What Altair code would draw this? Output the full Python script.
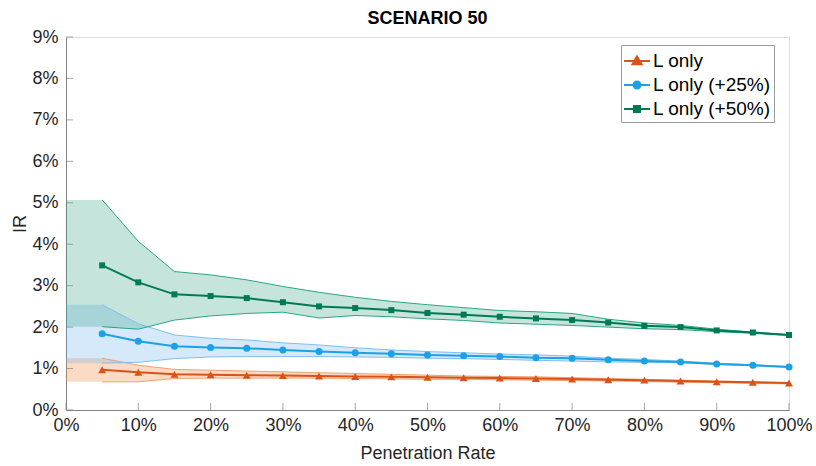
import altair as alt
import pandas as pd

# ---------------- data (IR in %) ----------------
SERIES = ["L only", "L only (+25%)", "L only (+50%)"]

x_pct = [5, 10, 15, 20, 25, 30, 35, 40, 45, 50, 55, 60, 65, 70, 75, 80, 85, 90, 95, 100]
orange_mean = [0.97, 0.91, 0.86, 0.85, 0.84, 0.83, 0.82, 0.81, 0.80, 0.79, 0.78, 0.77, 0.76, 0.75, 0.73, 0.72, 0.70, 0.68, 0.67, 0.65]
blue_mean = [1.84, 1.66, 1.54, 1.51, 1.49, 1.45, 1.41, 1.38, 1.36, 1.33, 1.31, 1.29, 1.26, 1.25, 1.21, 1.18, 1.16, 1.11, 1.08, 1.04]
green_mean = [3.49, 3.08, 2.79, 2.75, 2.70, 2.60, 2.50, 2.46, 2.41, 2.34, 2.30, 2.25, 2.21, 2.17, 2.11, 2.03, 2.00, 1.92, 1.87, 1.81]

# bands are drawn from 0% (flat to the 5% value) to 100%
band_x_pct = [0, 5, 10, 15, 20, 25, 30, 35, 40, 45, 50, 55, 60, 65, 70, 75, 80, 85, 90, 95, 100]
orange_hi = [1.25, 1.25, 1.08, 0.98, 0.96, 0.94, 0.92, 0.90, 0.88, 0.86, 0.84, 0.82, 0.81, 0.80, 0.78, 0.76, 0.74, 0.72, 0.70, 0.68, 0.66]
orange_lo = [0.68, 0.68, 0.68, 0.76, 0.77, 0.77, 0.77, 0.77, 0.76, 0.75, 0.74, 0.74, 0.73, 0.72, 0.71, 0.70, 0.69, 0.67, 0.66, 0.64, 0.63]
blue_hi = [2.54, 2.54, 2.08, 1.81, 1.73, 1.69, 1.62, 1.57, 1.50, 1.45, 1.41, 1.38, 1.35, 1.33, 1.30, 1.25, 1.22, 1.18, 1.13, 1.09, 1.05]
blue_lo = [1.13, 1.13, 1.15, 1.24, 1.28, 1.29, 1.29, 1.29, 1.28, 1.27, 1.25, 1.24, 1.22, 1.20, 1.18, 1.16, 1.15, 1.14, 1.10, 1.07, 1.03]
green_hi = [5.07, 5.07, 4.07, 3.34, 3.26, 3.14, 2.98, 2.84, 2.72, 2.62, 2.54, 2.47, 2.40, 2.37, 2.33, 2.19, 2.10, 2.04, 1.95, 1.88, 1.82]
green_lo = [2.01, 2.01, 1.95, 2.17, 2.27, 2.33, 2.36, 2.22, 2.28, 2.25, 2.20, 2.16, 2.10, 2.07, 2.04, 2.00, 1.96, 1.94, 1.89, 1.85, 1.80]

x_ticks = [0, 10, 20, 30, 40, 50, 60, 70, 80, 90, 100]
y_ticks = [0, 1, 2, 3, 4, 5, 6, 7, 8, 9]

# ---------------- styles ----------------
LINE_COLORS = ["#D95319", "#1DA1E6", "#007A55"]
BAND_FILLS = ["#F5904A", "#5AA6EE", "#1E9A78"]
BAND_OPAC = [0.32, 0.25, 0.26]
BAND_EDGES = ["#F0A070", "#80BEF0", "#2AA588"]
SHAPES = ["triangle-up", "circle", "square"]
SIZES = [64, 49, 36]
LEGEND_PATHS = [
    "M-1.08,0H1.08M0,-0.38L0.38,0.27L-0.38,0.27Z",
    "M-1.08,0H1.08M0.29,0A0.29,0.29,0,1,1,-0.29,0A0.29,0.29,0,1,1,0.29,0Z",
    "M-1.08,0H1.08M-0.25,-0.25H0.25V0.25H-0.25Z",
]
FONT = "Liberation Sans"
W, H = 723, 373

means = [orange_mean, blue_mean, green_mean]
his = [orange_hi, blue_hi, green_hi]
los = [orange_lo, blue_lo, green_lo]

line_df = pd.concat(
    [pd.DataFrame({"x": x_pct, "y": m, "series": s}) for s, m in zip(SERIES, means)],
    ignore_index=True,
)

xscale = alt.Scale(domain=[0, 100], nice=False)
yscale = alt.Scale(domain=[0, 9], nice=False)
xaxis = alt.Axis(values=x_ticks, labelExpr="datum.value + '%'", ticks=False, grid=False,
                 domainColor="#808080", labelFontSize=18, labelFont=FONT, labelColor="#262626",
                 labelPadding=6, labelFlush=False, title="Penetration Rate", titleFont=FONT,
                 titleFontSize=18, titleFontWeight="normal", titleColor="#262626", titlePadding=10)
yaxis = alt.Axis(values=y_ticks, labelExpr="datum.value + '%'", ticks=False, grid=False,
                 domainColor="#808080", labelFontSize=18, labelFont=FONT, labelColor="#262626",
                 labelPadding=8, labelFlush=False, title="IR", titleFont=FONT, titleFontSize=18,
                 titleFontWeight="normal", titleColor="#262626", titlePadding=2)

X = lambda f="x": alt.X(f"{f}:Q", scale=xscale, axis=xaxis)
Y = lambda f="y": alt.Y(f"{f}:Q", scale=yscale, axis=yaxis)

layers = []
# bands
for i, s in enumerate(SERIES):
    bdf = pd.DataFrame({"x": band_x_pct, "lo": los[i], "hi": his[i]})
    layers.append(
        alt.Chart(bdf).mark_area(color=BAND_FILLS[i], opacity=BAND_OPAC[i])
        .encode(x=X(), y=Y("lo"), y2="hi")
    )
# band edges
for i, s in enumerate(SERIES):
    bdf = pd.DataFrame({"x": band_x_pct, "lo": los[i], "hi": his[i]})
    for col in ["lo", "hi"]:
        layers.append(
            alt.Chart(bdf).transform_filter("datum.x >= 5")
            .mark_line(color=BAND_EDGES[i], strokeWidth=1)
            .encode(x=X(), y=Y(col))
        )
# mean lines with markers
for i, s in enumerate(SERIES):
    d = line_df[line_df.series == s]
    layers.append(alt.Chart(d).mark_line(color=LINE_COLORS[i], strokeWidth=2).encode(x=X(), y=Y()))
    layers.append(
        alt.Chart(d).mark_point(shape=SHAPES[i], filled=True, opacity=1, size=SIZES[i],
                                color=LINE_COLORS[i])
        .encode(x=X(), y=Y())
    )

# inward tick marks
layers.append(
    alt.Chart(pd.DataFrame({"x": x_ticks})).mark_tick(orient="vertical", size=7, thickness=1, color="#808080")
    .encode(x=X(), y=alt.value(H - 3.5))
)
layers.append(
    alt.Chart(pd.DataFrame({"y": y_ticks})).mark_tick(orient="horizontal", size=7, thickness=1, color="#808080")
    .encode(y=Y(), x=alt.value(3.5))
)

# legend-only layer (invisible marks)
leg = alt.Legend(title=None, orient="none", legendX=555, legendY=8, symbolSize=576,
                 symbolStrokeWidth=2, symbolOpacity=1, labelFont=FONT, labelFontSize=19,
                 labelColor="#000000", labelOffset=3, padding=3, rowPadding=1,
                 labelExpr="datum.label + '\u2003'",
                 strokeColor="#9a9a9a", fillColor="white", labelLimit=300)
layers.append(
    alt.Chart(line_df).mark_point(opacity=0, filled=True)
    .encode(
        x=X(), y=Y(),
        fill=alt.Fill("series:N", scale=alt.Scale(domain=SERIES, range=LINE_COLORS), legend=leg),
        stroke=alt.Stroke("series:N", scale=alt.Scale(domain=SERIES, range=LINE_COLORS), legend=leg),
        shape=alt.Shape("series:N", scale=alt.Scale(domain=SERIES, range=LEGEND_PATHS), legend=leg),
    )
)

chart = alt.layer(*layers).properties(
    width=W, height=H,
    title=alt.Title("SCENARIO 50", font=FONT, fontSize=18, fontWeight="bold", color="#000000",
                    anchor="middle", offset=0),
    padding={"left": 66, "top": 37, "right": 27, "bottom": 56},
    autosize=alt.AutoSizeParams(type="none"),
).configure_view(stroke=None).configure(background="white")

chart.save("out.html", embed_options={"renderer": "svg", "actions": False})
